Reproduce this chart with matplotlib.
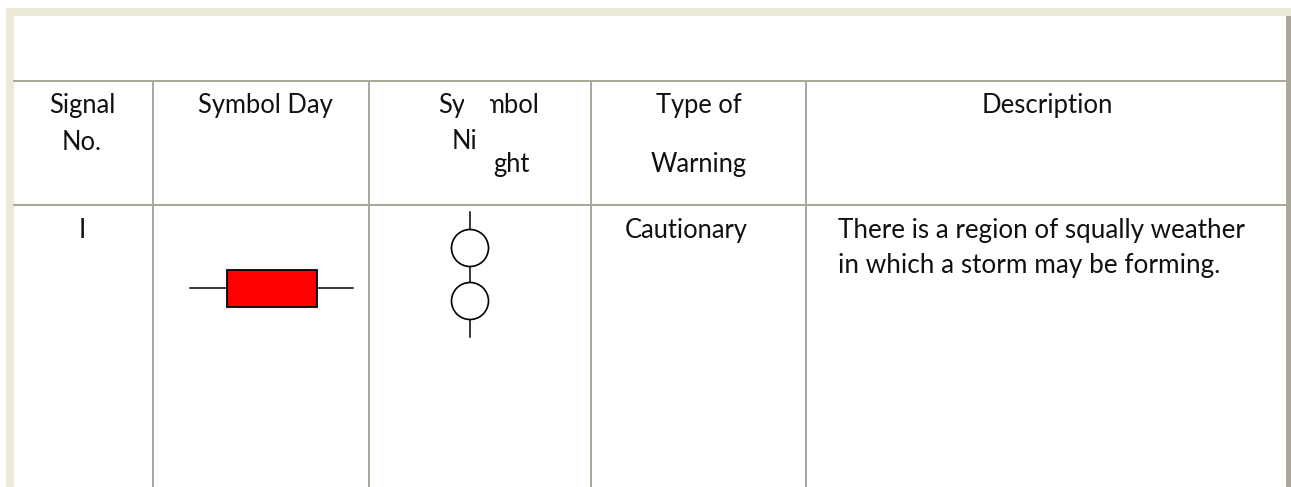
import matplotlib
matplotlib.use("Agg")
import matplotlib.pyplot as plt
from matplotlib.patches import Rectangle, Circle

plt.rcParams['font.family'] = ['Lato', 'DejaVu Sans']

W, H = 1291, 487

frame_col = '#ece9d8'
border_col = '#aca899'

# column lines and row lines of the table
col_x = [153, 369, 591, 806]
row_y = [81, 205]

# header and body text, as (text, x, baseline y, ha, size)
cells = [
    ('Signal', 82, 113, 'center', 18.4),
    ('No.', 82, 150, 'center', 18.4),
    ('Symbol Day', 265, 113, 'center', 18.4),
    ('Sy', 438, 113, 'left', 18.4),
    ('mbol', 539, 113, 'right', 18.4),
    ('Ni', 452, 149, 'left', 18.4),
    ('ght', 493, 172, 'left', 18.4),
    ('Type of', 699, 113, 'center', 18.4),
    ('Warning', 699, 172, 'center', 18.4),
    ('Description', 1047, 113, 'center', 18.5),
    ('I', 82.5, 238, 'center', 18.4),
    ('Cautionary', 686, 238, 'center', 18.4),
    ('There is a region of squally weather', 838, 238, 'left', 18.75),
    ('in which a storm may be forming.', 838, 273, 'left', 18.8),
]

fig = plt.figure(figsize=(W / 100, H / 100), dpi=100)
ax = fig.add_axes([0, 0, 1, 1])
ax.set_xlim(0, W)
ax.set_ylim(H, 0)
ax.axis('off')

# window frame
ax.add_patch(Rectangle((6, 8), W - 6, 8, fc=frame_col, ec='none'))
ax.add_patch(Rectangle((6, 8), 8, H - 8, fc=frame_col, ec='none'))
ax.add_patch(Rectangle((1286, 16), 5, H - 16, fc=border_col, ec='none'))

# table grid
for y in row_y:
    ax.plot([13, 1286], [y, y], color=border_col, lw=1.44, solid_capstyle='butt')
for x in col_x:
    ax.plot([x, x], [81, H], color=border_col, lw=1.44, solid_capstyle='butt')

for txt, x, y, ha, size in cells:
    ax.text(x, y, txt, ha=ha, va='baseline', fontsize=size, color='#111111', zorder=4)

# the left part of the m is cut off in the original
ax.add_patch(Rectangle((464, 90), 26, 30, fc='white', ec='none', zorder=5))

# day symbol
ax.plot([190, 353], [288, 288], color='black', lw=1.1, zorder=2)
ax.add_patch(Rectangle((227, 270), 90, 36.5, fc='#ff0000', ec='black', lw=1.3, zorder=3))

# night symbol
ax.plot([470, 470], [212, 337], color='black', lw=1.1, zorder=2)
ax.add_patch(Circle((470, 248), 18.5, fc='white', ec='black', lw=1.2, zorder=3))
ax.add_patch(Circle((470, 301), 18.5, fc='white', ec='black', lw=1.2, zorder=3))

fig.savefig('out.png', dpi=100, facecolor='white')
